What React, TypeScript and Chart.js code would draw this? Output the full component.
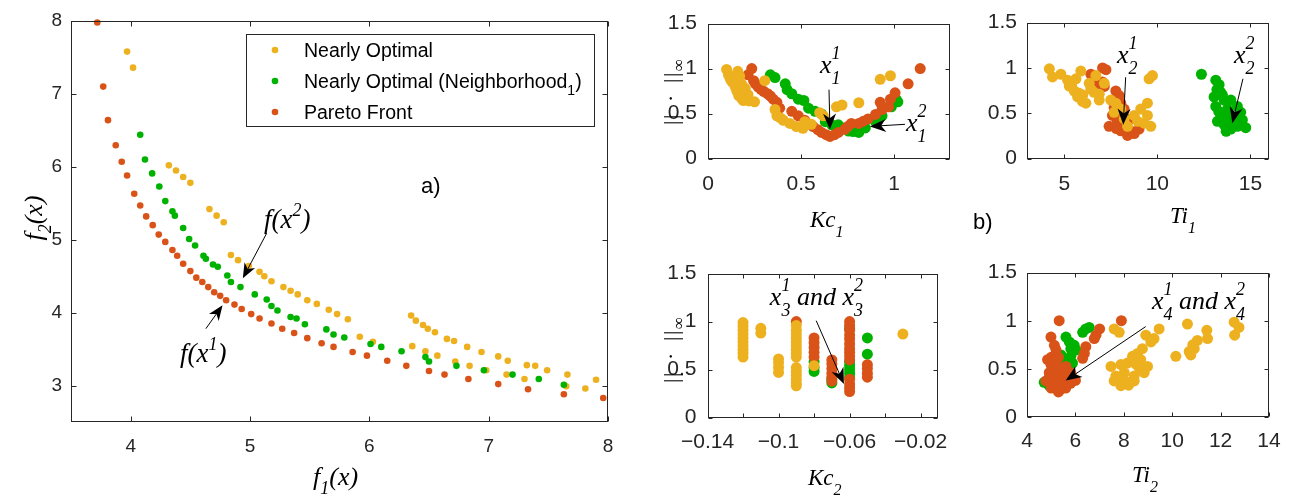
import React, { useEffect, useRef } from "react";
import { Chart, registerables } from "chart.js";

Chart.register(...registerables);

type Pt = [number, number];

const YELLOW = "#EDB120";
const GREEN = "#00B200";
const RED = "#D95319";
const AXIS = "#262626";
const SANS = '"Liberation Sans", Arial, Helvetica, sans-serif';
const SERIF = '"Liberation Serif", "Times New Roman", serif';

// ---------- a) objective space f1 / f2 ----------
const f1Ticks = [4, 5, 6, 7, 8];
const f2Ticks = [3, 4, 5, 6, 7, 8];

const nearlyOptimal: Pt[] = [
  [3.97, 7.58], [4.02, 7.36], [4.32, 6.02], [4.38, 5.95], [4.44, 5.86], [4.5, 5.78],
  [4.66, 5.42], [4.72, 5.33], [4.78, 5.24], [4.84, 4.79], [4.9, 4.72], [4.99, 4.64],
  [5.08, 4.56], [5.12, 4.5], [5.18, 4.43], [5.28, 4.35], [5.34, 4.3], [5.4, 4.25],
  [5.48, 4.17], [5.56, 4.12], [5.66, 4.04], [5.73, 3.98], [5.82, 3.91], [5.92, 3.67],
  [6.03, 3.6], [6.36, 3.54], [6.35, 3.96], [6.39, 3.89], [6.45, 3.83], [6.49, 3.78],
  [6.55, 3.73], [6.65, 3.64], [6.71, 3.61], [6.82, 3.53], [6.94, 3.46], [7.08, 3.4],
  [7.16, 3.34], [7.32, 3.28], [7.39, 3.27], [7.49, 3.21], [7.66, 3.15], [7.9, 3.08],
  [6.47, 3.47], [6.57, 3.41], [6.72, 3.33], [6.84, 3.27], [6.98, 3.21], [7.15, 3.15],
  [7.3, 3.09], [7.65, 2.99], [7.81, 2.96],
];

const neighborhood1: Pt[] = [
  [4.08, 6.44], [4.12, 6.1], [4.18, 5.91], [4.24, 5.73], [4.29, 5.53], [4.35, 5.39],
  [4.37, 5.33], [4.44, 5.16], [4.49, 5.01], [4.54, 4.92], [4.61, 4.78], [4.63, 4.74],
  [4.69, 4.66], [4.73, 4.63], [4.81, 4.51], [4.84, 4.42], [4.92, 4.35], [5.04, 4.25],
  [5.14, 4.18], [5.18, 4.09], [5.23, 4.03], [5.34, 3.94], [5.39, 3.92], [5.46, 3.84],
  [5.64, 3.77], [5.7, 3.7], [5.79, 3.66], [6.01, 3.57], [6.1, 3.53], [6.27, 3.47],
  [6.47, 3.39], [6.5, 3.33], [6.73, 3.27], [6.96, 3.21], [7.2, 3.15], [7.42, 3.09],
  [7.63, 3.01],
];

const paretoFront: Pt[] = [
  [3.72, 7.98], [3.77, 7.1], [3.81, 6.64], [3.875, 6.295], [3.925, 6.07], [3.97, 5.88],
  [4.03, 5.63], [4.08, 5.47], [4.13, 5.32], [4.185, 5.2], [4.235, 5.07], [4.29, 4.97],
  [4.35, 4.86], [4.39, 4.78], [4.44, 4.67], [4.5, 4.57], [4.55, 4.48], [4.6, 4.42],
  [4.65, 4.35], [4.7, 4.28], [4.75, 4.23], [4.8, 4.17], [4.87, 4.11], [4.93, 4.05],
  [5.01, 3.98], [5.08, 3.92], [5.18, 3.85], [5.27, 3.78], [5.37, 3.72], [5.48, 3.65],
  [5.6, 3.58], [5.7, 3.53], [5.86, 3.46], [5.98, 3.41], [6.15, 3.34], [6.31, 3.27],
  [6.5, 3.2], [6.63, 3.15], [6.83, 3.09], [7.08, 3.02], [7.33, 2.95], [7.63, 2.88],
  [7.96, 2.83],
];

// ---------- b) controller parameters vs. ||.||inf ----------
const normTicks = [0, 0.5, 1, 1.5];
const kc1Ticks = [0, 0.5, 1];
const ti1Ticks = [5, 10, 15];
const kc2Ticks = [-0.14, -0.12, -0.1, -0.08, -0.06, -0.04, -0.02];
const kc2TickLabels = [-0.14, -0.1, -0.06, -0.02];
const ti2Ticks = [4, 6, 8, 10, 12, 14];

const kc1Nearly: Pt[] = [
  [0.1, 0.99], [0.11, 0.93], [0.16, 0.97], [0.17, 0.915], [0.12, 0.88], [0.13, 0.85],
  [0.14, 0.86], [0.145, 0.81], [0.18, 0.83], [0.15, 0.78], [0.155, 0.75], [0.2, 0.78],
  [0.175, 0.73], [0.165, 0.7], [0.2, 0.69], [0.18, 0.67], [0.19, 0.645], [0.215, 0.71],
  [0.22, 0.64], [0.25, 0.63], [0.21, 0.66], [0.305, 0.865], [0.36, 0.545], [0.37, 0.475],
  [0.39, 0.45], [0.405, 0.425], [0.44, 0.39], [0.475, 0.355], [0.51, 0.335], [0.555, 0.38],
  [0.52, 0.41], [0.6, 0.51], [0.62, 0.475], [0.69, 0.575], [0.72, 0.595], [0.81, 0.62],
  [0.925, 0.88], [0.98, 0.92],
];
const kc1Neighborhood: Pt[] = [
  [0.335, 0.93], [0.36, 0.9], [0.415, 0.83], [0.425, 0.765], [0.45, 0.72], [0.485, 0.66],
  [0.515, 0.645], [0.54, 0.56], [0.575, 0.525], [0.61, 0.495], [0.63, 0.41], [0.665, 0.375],
  [0.7, 0.375], [0.72, 0.34], [0.755, 0.305], [0.78, 0.3], [0.81, 0.29], [0.845, 0.34],
  [0.9, 0.41], [0.935, 0.475], [0.985, 0.575], [1.02, 0.63], [1.01, 0.66],
];
const kc1Pareto: Pt[] = [
  [0.235, 1.0], [0.215, 0.93], [0.245, 0.865], [0.255, 0.83], [0.27, 0.795], [0.285, 0.77],
  [0.3, 0.745], [0.32, 0.72], [0.335, 0.695], [0.35, 0.66], [0.37, 0.625], [0.385, 0.56],
  [0.45, 0.525], [0.485, 0.475], [0.52, 0.425], [0.565, 0.355], [0.59, 0.32], [0.61, 0.29],
  [0.635, 0.265], [0.655, 0.245], [0.68, 0.265], [0.7, 0.29], [0.735, 0.325], [0.75, 0.355],
  [0.77, 0.39], [0.81, 0.39], [0.835, 0.415], [0.86, 0.44], [0.9, 0.49], [0.935, 0.545],
  [0.97, 0.575], [0.925, 0.625], [0.98, 0.66], [1.005, 0.73], [1.075, 0.83], [1.14, 1.0],
];

const ti1Nearly: Pt[] = [
  [4.2, 0.99], [4.37, 0.9], [4.82, 0.93], [5.18, 0.865], [5.27, 0.8], [5.4, 0.8],
  [5.63, 0.88], [5.54, 0.745], [5.72, 0.68], [5.8, 0.72], [5.98, 0.63], [6.0, 0.7],
  [6.16, 0.61], [5.89, 0.965], [6.34, 0.83], [6.7, 0.915], [6.43, 0.765], [6.6, 0.73],
  [6.88, 0.71], [7.15, 0.83], [6.88, 0.645], [7.5, 0.645], [7.77, 0.61], [8.04, 0.545],
  [8.76, 0.475], [8.4, 0.355], [8.94, 0.41], [9.29, 0.39], [9.65, 0.355], [9.47, 0.61],
  [9.47, 0.475], [9.11, 0.545], [9.74, 0.915], [9.56, 0.88], [7.68, 0.51], [8.22, 0.44],
];
const ti1Neighborhood: Pt[] = [
  [12.37, 0.93], [13.14, 0.865], [13.32, 0.815], [13.2, 0.76], [13.41, 0.73], [13.05, 0.68],
  [13.5, 0.7], [13.59, 0.645], [13.14, 0.575], [13.95, 0.645], [13.77, 0.545], [13.3, 0.52],
  [13.41, 0.475], [13.8, 0.48], [14.3, 0.575], [14.48, 0.51], [13.23, 0.41], [13.59, 0.375],
  [13.9, 0.4], [13.95, 0.325], [13.7, 0.3], [14.3, 0.355], [14.75, 0.34], [14.13, 0.44],
  [14.57, 0.425],
];
const ti1Pareto: Pt[] = [
  [7.06, 1.0], [7.24, 0.98], [6.43, 0.93], [6.7, 0.88], [7.06, 0.845], [7.15, 0.795],
  [6.61, 0.795], [7.77, 0.745], [7.95, 0.695], [7.9, 0.65], [8.04, 0.61], [8.22, 0.545],
  [8.1, 0.5], [7.59, 0.475], [8.0, 0.45], [7.41, 0.355], [7.86, 0.41], [7.8, 0.33],
  [8.04, 0.305], [8.3, 0.3], [8.4, 0.255], [8.6, 0.3], [8.76, 0.275], [9.02, 0.325],
  [8.22, 0.39], [8.58, 0.44], [7.68, 0.56],
];

const kc2Nearly: Pt[] = [
  [-0.12, 0.99], [-0.12, 0.95], [-0.12, 0.91], [-0.12, 0.87], [-0.12, 0.83], [-0.12, 0.79],
  [-0.12, 0.75], [-0.12, 0.71], [-0.12, 0.67], [-0.12, 0.63], [-0.11, 0.93], [-0.11, 0.88],
  [-0.1, 0.61], [-0.1, 0.57], [-0.1, 0.52], [-0.1, 0.47], [-0.09, 0.96], [-0.09, 0.91],
  [-0.09, 0.87], [-0.09, 0.83], [-0.09, 0.79], [-0.09, 0.75], [-0.09, 0.71], [-0.09, 0.67],
  [-0.09, 0.63], [-0.09, 0.52], [-0.09, 0.48], [-0.09, 0.44], [-0.09, 0.4], [-0.09, 0.36],
  [-0.09, 0.33], [-0.08, 0.54], [-0.03, 0.87],
];
const kc2Neighborhood: Pt[] = [
  [-0.08, 0.58], [-0.08, 0.52], [-0.08, 0.48], [-0.07, 0.4], [-0.07, 0.36], [-0.06, 0.93],
  [-0.06, 0.58], [-0.06, 0.54], [-0.06, 0.5], [-0.06, 0.46], [-0.06, 0.42], [-0.05, 0.83],
  [-0.05, 0.66],
];
const kc2Pareto: Pt[] = [
  [-0.09, 1.0], [-0.08, 0.83], [-0.08, 0.78], [-0.08, 0.73], [-0.08, 0.68], [-0.08, 0.63],
  [-0.07, 0.6], [-0.07, 0.56], [-0.07, 0.51], [-0.07, 0.46], [-0.07, 0.42], [-0.07, 0.38],
  [-0.06, 1.0], [-0.06, 0.96], [-0.06, 0.91], [-0.06, 0.86], [-0.06, 0.82], [-0.06, 0.77],
  [-0.06, 0.72], [-0.06, 0.68], [-0.06, 0.64], [-0.06, 0.6], [-0.06, 0.4], [-0.06, 0.35],
  [-0.06, 0.31], [-0.06, 0.27], [-0.05, 0.55], [-0.05, 0.51], [-0.05, 0.46], [-0.05, 0.42],
];

const ti2Nearly: Pt[] = [
  [7.6, 0.915], [7.81, 0.88], [9.46, 0.915], [10.63, 0.965], [11.43, 0.9], [11.46, 0.815],
  [12.56, 0.985], [12.76, 0.93], [12.58, 0.85], [8.91, 0.85], [9.12, 0.78], [9.25, 0.815],
  [8.77, 0.71], [8.57, 0.66], [8.36, 0.63], [8.7, 0.595], [8.5, 0.55], [8.15, 0.56],
  [7.88, 0.545], [7.47, 0.525], [8.02, 0.46], [7.9, 0.42], [8.43, 0.425], [8.84, 0.46],
  [8.98, 0.525], [8.64, 0.51], [7.6, 0.375], [7.88, 0.325], [8.2, 0.33], [8.15, 0.36],
  [8.43, 0.375], [7.67, 0.425], [10.15, 0.63], [10.77, 0.645], [10.91, 0.71], [10.85, 0.75],
  [11.04, 0.795], [10.7, 0.68],
];
const ti2Neighborhood: Pt[] = [
  [6.43, 0.915], [6.57, 0.93], [6.3, 0.88], [5.61, 0.83], [5.75, 0.78], [5.95, 0.745],
  [5.81, 0.71], [6.02, 0.695], [5.4, 0.645], [5.81, 0.63], [5.6, 0.6], [5.26, 0.575],
  [5.88, 0.56], [5.54, 0.525], [5.7, 0.45], [5.1, 0.45], [5.2, 0.39], [4.71, 0.36],
  [4.92, 0.325],
];
const ti2Pareto: Pt[] = [
  [5.33, 1.0], [7.9, 1.0], [7.0, 0.915], [6.85, 0.85], [4.99, 0.83], [6.78, 0.815],
  [6.43, 0.73], [6.37, 0.66], [6.3, 0.61], [5.13, 0.745], [5.2, 0.695], [5.0, 0.62],
  [5.3, 0.62], [4.85, 0.595], [5.2, 0.56], [4.99, 0.545], [5.4, 0.5], [4.92, 0.46],
  [4.78, 0.375], [5.0, 0.4], [5.13, 0.325], [5.0, 0.3], [5.3, 0.26], [5.4, 0.29],
  [5.6, 0.3], [5.8, 0.35], [6.0, 0.38], [5.54, 0.36], [5.68, 0.41], [5.5, 0.43],
  [5.26, 0.46], [5.81, 0.46], [5.9, 0.4], [5.61, 0.525], [5.13, 0.495], [4.92, 0.41],
  [5.26, 0.375],
];

// ---------- drawing helpers ----------
type Ctx = CanvasRenderingContext2D;
type Seg = { t: string; sup?: string; sub?: string };

function mathText(
  ctx: Ctx, x: number, y: number, segs: Seg[],
  base: string, script: string, raise: number, drop: number
): number {
  for (const s of segs) {
    ctx.font = base;
    ctx.fillText(s.t, x, y);
    x += ctx.measureText(s.t).width;
    if (s.sup || s.sub) {
      ctx.font = script;
      let w = 0;
      if (s.sup) { ctx.fillText(s.sup, x, y - raise); w = Math.max(w, ctx.measureText(s.sup).width); }
      if (s.sub) { ctx.fillText(s.sub, x, y + drop); w = Math.max(w, ctx.measureText(s.sub).width); }
      x += w;
    }
  }
  return x;
}

function mathWidth(ctx: Ctx, segs: Seg[], base: string, script: string): number {
  let w = 0;
  for (const s of segs) {
    ctx.font = base;
    w += ctx.measureText(s.t).width;
    ctx.font = script;
    w += Math.max(s.sup ? ctx.measureText(s.sup).width : 0, s.sub ? ctx.measureText(s.sub).width : 0);
  }
  return w;
}

function arrow(ctx: Ctx, x1: number, y1: number, x2: number, y2: number, len: number, half: number) {
  const a = Math.atan2(y2 - y1, x2 - x1);
  const c = Math.cos(a), s = Math.sin(a);
  ctx.strokeStyle = "#000";
  ctx.fillStyle = "#000";
  ctx.lineWidth = 1;
  ctx.beginPath();
  ctx.moveTo(x1, y1);
  ctx.lineTo(x2 - c * len * 0.6, y2 - s * len * 0.6);
  ctx.stroke();
  const bx = x2 - c * len, by = y2 - s * len;
  ctx.beginPath();
  ctx.moveTo(x2, y2);
  ctx.lineTo(bx - s * half, by + c * half);
  ctx.lineTo(x2 - c * len * 0.7, y2 - s * len * 0.7);
  ctx.lineTo(bx + s * half, by - c * half);
  ctx.closePath();
  ctx.fill();
}

function fmtTick(v: number): string {
  const r = Math.round(v * 1000) / 1000;
  return String(r).replace("-", "\u2212");
}

type Deco = {
  ctx: Ctx;
  at: (x: number, y: number) => [number, number];
  pg: (x: number, y: number) => [number, number];
};

type Axis = { min: number; max: number; ticks: number[]; labels?: number[] };
type Series = { label: string; data: Pt[]; color: string };
type PanelProps = {
  box: { left: number; top: number; width: number; height: number };
  area: { l: number; t: number; r: number; b: number };
  xAxis: Axis;
  yAxis: Axis;
  series: Series[]; // bottom-most first
  radius: number;
  tickSize: number;
  tickLen: number;
  xPad: number;
  yPad: number;
  decorate: (d: Deco) => void;
};

function Panel(p: PanelProps) {
  const ref = useRef<HTMLCanvasElement | null>(null);
  useEffect(() => {
    const canvas = ref.current;
    if (!canvas) return;
    const { box, area, xAxis, yAxis } = p;
    const label = (ax: Axis) => (v: number | string) => {
      const n = Number(v);
      if (ax.labels && !ax.labels.some((l) => Math.abs(l - n) < 1e-9)) return "";
      return fmtTick(n);
    };
    const frame = {
      id: "frame",
      afterDatasetsDraw(chart: any) {
        const ctx: Ctx = chart.ctx;
        const xs = chart.scales.x, ys = chart.scales.y;
        const a = chart.chartArea;
        const L = Math.round(a.left) + 0.5, R = Math.round(a.right) - 0.5;
        const T = Math.round(a.top) + 0.5, B = Math.round(a.bottom) - 0.5;
        ctx.save();
        ctx.strokeStyle = AXIS;
        ctx.lineWidth = 1;
        ctx.strokeRect(L, T, R - L, B - T);
        ctx.beginPath();
        for (const v of xAxis.ticks) {
          const q = Math.round(xs.getPixelForValue(v)) + 0.5;
          ctx.moveTo(q, B); ctx.lineTo(q, B - p.tickLen);
          ctx.moveTo(q, T); ctx.lineTo(q, T + p.tickLen);
        }
        for (const v of yAxis.ticks) {
          const q = Math.round(ys.getPixelForValue(v)) + 0.5;
          ctx.moveTo(L, q); ctx.lineTo(L + p.tickLen, q);
          ctx.moveTo(R, q); ctx.lineTo(R - p.tickLen, q);
        }
        ctx.stroke();
        ctx.restore();
        ctx.save();
        p.decorate({
          ctx,
          at: (x, y) => [xs.getPixelForValue(x), ys.getPixelForValue(y)],
          pg: (x, y) => [x - box.left, y - box.top],
        });
        ctx.restore();
      },
    };
    const n = p.series.length;
    const tickFont = { family: SANS, size: p.tickSize };
    const chart = new Chart(canvas, {
      type: "scatter",
      data: {
        datasets: p.series.map((s, i) => ({
          label: s.label,
          data: s.data.map(([x, y]) => ({ x, y })),
          pointBackgroundColor: s.color,
          backgroundColor: s.color,
          pointBorderWidth: 0,
          borderWidth: 0,
          pointRadius: p.radius,
          pointHoverRadius: p.radius,
          order: n - i,
          clip: false as any,
        })),
      },
      options: {
        responsive: false,
        animation: false,
        events: [],
        layout: {
          padding: { top: area.t - box.top, right: box.left + box.width - area.r, left: 0, bottom: 0 },
        },
        plugins: { legend: { display: false }, tooltip: { enabled: false } },
        scales: {
          x: {
            type: "linear",
            min: xAxis.min,
            max: xAxis.max,
            afterBuildTicks: (s: any) => { s.ticks = xAxis.ticks.map((v) => ({ value: v })); },
            afterFit: (s: any) => { s.height = box.top + box.height - area.b; },
            grid: { display: false, drawTicks: false },
            border: { display: false },
            ticks: { font: tickFont, color: AXIS, padding: p.xPad, maxRotation: 0, minRotation: 0, autoSkip: false, callback: label(xAxis) as any },
          },
          y: {
            type: "linear",
            min: yAxis.min,
            max: yAxis.max,
            afterBuildTicks: (s: any) => { s.ticks = yAxis.ticks.map((v) => ({ value: v })); },
            afterFit: (s: any) => { s.width = area.l - box.left; },
            grid: { display: false, drawTicks: false },
            border: { display: false },
            ticks: { font: tickFont, color: AXIS, padding: p.yPad, autoSkip: false, callback: label(yAxis) as any },
          },
        },
      },
      plugins: [frame],
    });
    return () => chart.destroy();
  }, []);
  return (
    <canvas
      ref={ref}
      width={p.box.width}
      height={p.box.height}
      style={{ position: "absolute", left: p.box.left, top: p.box.top }}
    />
  );
}

const mathBase = `italic 26px ${SERIF}`;
const mathScript = `italic 18px ${SERIF}`;
const labelBase = `italic 23px ${SERIF}`;
const labelScript = `italic 16px ${SERIF}`;

function normLabel(d: Deco, cx: number, cy: number) {
  const { ctx } = d;
  const [x, y] = d.pg(cx, cy);
  ctx.save();
  ctx.translate(x, y);
  ctx.rotate(-Math.PI / 2);
  ctx.fillStyle = "#000";
  ctx.font = `22px ${SERIF}`;
  const glyphs: [string, number][] = [["|", 0], ["|", 6], ["\u00B7", 23], ["|", 42], ["|", 48]];
  const total = 66;
  for (const [g, o] of glyphs) ctx.fillText(g, o - total / 2, 0);
  ctx.font = `17px ${SERIF}`;
  ctx.fillText("\u221E", 54 - total / 2, 6);
  ctx.restore();
}

function xLabel(d: Deco, left: number, baseline: number, name: string, idx: string) {
  const [x, y] = d.pg(left, baseline);
  d.ctx.fillStyle = "#000";
  mathText(d.ctx, x, y, [{ t: name, sub: idx }], labelBase, labelScript, 0, 10);
}

function pointLabel(d: Deco, at: Pt, segs: Seg[]) {
  const [x, y] = d.at(at[0], at[1]);
  d.ctx.fillStyle = "#000";
  mathText(d.ctx, x, y, segs, mathBase, mathScript, 14, 11);
}

function pointArrow(d: Deco, from: Pt, to: Pt, len = 16, half = 6.5) {
  const [x1, y1] = d.at(from[0], from[1]);
  const [x2, y2] = d.at(to[0], to[1]);
  arrow(d.ctx, x1, y1, x2, y2, len, half);
}

function mainDecor(d: Deco) {
  const { ctx } = d;
  // legend
  ctx.fillStyle = "#fff";
  ctx.fillRect(246.5, 34.5, 348, 92);
  ctx.strokeStyle = AXIS;
  ctx.lineWidth = 1;
  ctx.strokeRect(246.5, 34.5, 348, 92);
  const rows: [string, number][] = [[YELLOW, 50], [GREEN, 81], [RED, 112]];
  for (const [c, y] of rows) {
    ctx.fillStyle = c;
    ctx.beginPath();
    ctx.arc(275, y, 3.3, 0, Math.PI * 2);
    ctx.fill();
  }
  ctx.fillStyle = "#000";
  const legBase = `19.5px ${SANS}`;
  ctx.font = legBase;
  ctx.fillText("Nearly Optimal", 304, 57);
  mathText(ctx, 304, 88, [{ t: "Nearly Optimal (Neighborhood", sub: "1" }, { t: ")" }], legBase, `14px ${SANS}`, 0, 7);
  ctx.font = legBase;
  ctx.fillText("Pareto Front", 304, 119);
  // panel tag
  ctx.font = `22px ${SANS}`;
  ctx.fillText("a)", 421, 193);
  // axis titles
  const fb = `italic 26px ${SERIF}`;
  const fs = `italic 18px ${SERIF}`;
  mathText(ctx, 313, 485, [{ t: "f", sub: "1" }, { t: "(x)" }], fb, fs, 0, 9);
  const ySegs: Seg[] = [{ t: "f", sub: "2" }, { t: "(x)" }];
  const w = mathWidth(ctx, ySegs, fb, fs);
  ctx.save();
  ctx.translate(42, 218);
  ctx.rotate(-Math.PI / 2);
  mathText(ctx, -w / 2, 0, ySegs, fb, fs, 0, 9);
  ctx.restore();
  // annotations
  const ab = `italic 27px ${SERIF}`;
  const as = `italic 18px ${SERIF}`;
  let [x, y] = d.at(5.117, 5.16);
  mathText(ctx, x, y, [{ t: "f(x", sup: "2" }, { t: ")" }], ab, as, 12, 0);
  pointArrow(d, [5.14, 5.09], [4.94, 4.47], 15, 6);
  [x, y] = d.at(4.413, 3.327);
  ctx.fillStyle = "#000";
  mathText(ctx, x, y, [{ t: "f(x", sup: "1" }, { t: ")" }], ab, as, 12, 0);
  pointArrow(d, [4.63, 3.78], [4.77, 4.1], 15, 6);
}

const SUB_R = 5.5;

export default function App() {
  return (
    <div style={{ position: "fixed", left: 0, top: 0, width: 1293, height: 499, background: "#fff", overflow: "hidden" }}>
      <Panel
        box={{ left: 0, top: 0, width: 640, height: 499 }}
        area={{ l: 71, t: 21, r: 608, b: 422 }}
        xAxis={{ min: 3.5, max: 8, ticks: f1Ticks }}
        yAxis={{ min: 2.5, max: 8, ticks: f2Ticks }}
        series={[
          { label: "Nearly Optimal", data: nearlyOptimal, color: YELLOW },
          { label: "Nearly Optimal (Neighborhood1)", data: neighborhood1, color: GREEN },
          { label: "Pareto Front", data: paretoFront, color: RED },
        ]}
        radius={3.3}
        tickSize={19}
        tickLen={5}
        xPad={13}
        yPad={9}
        decorate={mainDecor}
      />
      <Panel
        box={{ left: 640, top: 0, width: 320, height: 250 }}
        area={{ l: 708, t: 10.5, r: 950, b: 158.5 }}
        xAxis={{ min: 0, max: 1.3, ticks: kc1Ticks }}
        yAxis={{ min: 0, max: 1.5, ticks: normTicks }}
        series={[
          { label: "Nearly Optimal (Neighborhood1)", data: kc1Neighborhood, color: GREEN },
          { label: "Pareto Front", data: kc1Pareto, color: RED },
          { label: "Nearly Optimal", data: kc1Nearly, color: YELLOW },
        ]}
        radius={SUB_R}
        tickSize={21}
        tickLen={4}
        xPad={13}
        yPad={11}
        decorate={(d) => {
          normLabel(d, 678, 92);
          xLabel(d, 810, 227, "Kc", "1");
          pointLabel(d, [0.6015, 0.948], [{ t: "x", sup: "1", sub: "1" }]);
          pointArrow(d, [0.65, 0.765], [0.655, 0.322]);
          pointLabel(d, [1.063, 0.309], [{ t: "x", sup: "2", sub: "1" }]);
          pointArrow(d, [1.058, 0.38], [0.87, 0.357]);
        }}
      />
      <Panel
        box={{ left: 960, top: 0, width: 333, height: 250 }}
        area={{ l: 1027, t: 10.5, r: 1269, b: 158.5 }}
        xAxis={{ min: 3, max: 16, ticks: ti1Ticks }}
        yAxis={{ min: 0, max: 1.5, ticks: normTicks }}
        series={[
          { label: "Nearly Optimal (Neighborhood1)", data: ti1Neighborhood, color: GREEN },
          { label: "Pareto Front", data: ti1Pareto, color: RED },
          { label: "Nearly Optimal", data: ti1Nearly, color: YELLOW },
        ]}
        radius={SUB_R}
        tickSize={21}
        tickLen={4}
        xPad={13}
        yPad={10}
        decorate={(d) => {
          xLabel(d, 1170, 223, "Ti", "1");
          const [bx, by] = d.pg(973, 229);
          d.ctx.fillStyle = "#000";
          d.ctx.font = `22px ${SANS}`;
          d.ctx.fillText("b)", bx, by);
          pointLabel(d, [7.835, 1.059], [{ t: "x", sup: "1", sub: "2" }]);
          pointArrow(d, [8.3, 0.897], [8.17, 0.373]);
          pointLabel(d, [14.12, 1.059], [{ t: "x", sup: "2", sub: "2" }]);
          pointArrow(d, [14.6, 0.88], [14.03, 0.39]);
        }}
      />
      <Panel
        box={{ left: 640, top: 250, width: 320, height: 249 }}
        area={{ l: 707.5, t: 270, r: 950, b: 417.5 }}
        xAxis={{ min: -0.14, max: -0.01, ticks: kc2Ticks, labels: kc2TickLabels }}
        yAxis={{ min: 0, max: 1.5, ticks: normTicks }}
        series={[
          { label: "Nearly Optimal (Neighborhood1)", data: kc2Neighborhood, color: GREEN },
          { label: "Pareto Front", data: kc2Pareto, color: RED },
          { label: "Nearly Optimal", data: kc2Nearly, color: YELLOW },
        ]}
        radius={SUB_R}
        tickSize={21}
        tickLen={4}
        xPad={12}
        yPad={11}
        decorate={(d) => {
          normLabel(d, 678, 350);
          xLabel(d, 808, 485, "Kc", "2");
          pointLabel(d, [-0.1049, 1.175], [{ t: "x", sup: "1", sub: "3" }, { t: " and x", sup: "2", sub: "3" }]);
          pointArrow(d, [-0.0788, 1.009], [-0.0632, 0.348]);
        }}
      />
      <Panel
        box={{ left: 960, top: 250, width: 333, height: 249 }}
        area={{ l: 1027, t: 270, r: 1269, b: 417 }}
        xAxis={{ min: 4, max: 14, ticks: ti2Ticks }}
        yAxis={{ min: 0, max: 1.5, ticks: normTicks }}
        series={[
          { label: "Nearly Optimal (Neighborhood1)", data: ti2Neighborhood, color: GREEN },
          { label: "Pareto Front", data: ti2Pareto, color: RED },
          { label: "Nearly Optimal", data: ti2Nearly, color: YELLOW },
        ]}
        radius={SUB_R}
        tickSize={21}
        tickLen={4}
        xPad={12}
        yPad={10}
        decorate={(d) => {
          xLabel(d, 1132, 482, "Ti", "2");
          pointLabel(d, [9.165, 1.122], [{ t: "x", sup: "1", sub: "4" }, { t: " and x", sup: "2", sub: "4" }]);
          pointArrow(d, [8.905, 0.939], [5.6, 0.378]);
        }}
      />
    </div>
  );
}
